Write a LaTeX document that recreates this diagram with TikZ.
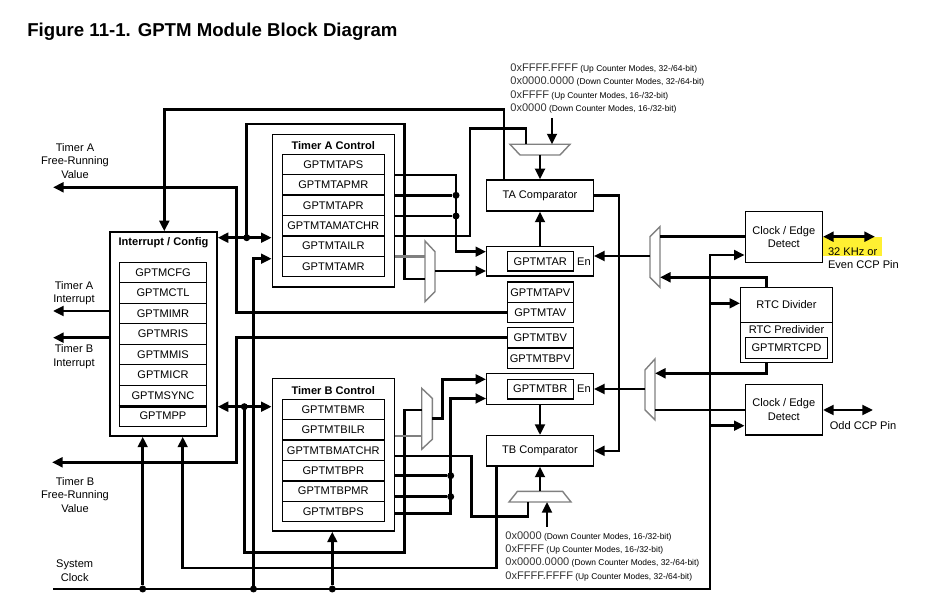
\documentclass[tikz,border=0pt]{standalone}
\usepackage{fontspec}
\setmainfont{Liberation Sans}
\usetikzlibrary{arrows.meta}
\definecolor{hilite}{RGB}{255,240,50}
\newcommand\blkfont{\fontsize{6.3}{7.6}\selectfont}
\newcommand\valfont{\fontsize{6.3}{7.6}\selectfont\color{black!80}}
\newcommand\modefont{\fontsize{4.8}{7.6}\selectfont}
\tikzset{
	box/.style={draw, line width=0.8pt, inner sep=0pt, font=\blkfont},
	reg/.style={box, minimum height=4.08mm},
	conn/.style={line width=1.5pt},
	arr/.style={conn, -{Triangle[length=6pt,width=5.5pt]}},
	darr/.style={conn, {Triangle[length=6pt,width=5.5pt]}-{Triangle[length=6pt,width=5.5pt]}},
	dot/.style={circle, fill=black, minimum size=1.4mm, inner sep=0pt},
	mux/.style={draw=gray, line width=0.8pt, fill=white},
	lbl/.style={font=\blkfont, align=center, inner sep=0pt},
}
\begin{document}
\begin{tikzpicture}[x=0.2mm, y=-0.2mm]
	\useasboundingbox (0,0) rectangle (942,609);
	\node[anchor=west, inner sep=0pt, font=\fontsize{10.6}{12}\selectfont\bfseries] (title) at (27,32) {Figure 11-1. GPTM Module Block Diagram};

	% interrupt / config
	\node[box, minimum width=21.4mm, minimum height=40.8mm] (ic) at (163.5,334) {};
	\node[lbl, font=\blkfont\bfseries] (icT) at (163.5,243) {Interrupt / Config};
	\foreach \nm [count=\i from 0] in {GPTMCFG,GPTMCTL,GPTMIMR,GPTMRIS,GPTMMIS,GPTMICR,GPTMSYNC,GPTMPP}
		\node[reg, minimum width=17.5mm, minimum height=4.1mm] (ir\i) at (163,272.55+20.5*\i) {\nm};
	\draw[conn] (ir6.south west) -- (ir6.south east);

	% timer A / timer B control
	\node[box, minimum width=24.4mm, minimum height=30.54mm] (taC) at (333.3,210.7) {};
	\node[lbl, font=\blkfont\bfseries] (taT) at (333.3,146) {Timer A Control};
	\foreach \nm [count=\i from 0] in {GPTMTAPS,GPTMTAPMR,GPTMTAPR,GPTMTAMATCHR,GPTMTAILR,GPTMTAMR}
		\node[reg, minimum width=20.4mm] (ta\i) at (333.3,164.5+20.4*\i) {\nm};
	\node[box, minimum width=24.4mm, minimum height=30.46mm] (tbC) at (333.3,454.85) {};
	\node[lbl, font=\blkfont\bfseries] (tbT) at (333.3,391) {Timer B Control};
	\foreach \nm [count=\i from 0] in {GPTMTBMR,GPTMTBILR,GPTMTBMATCHR,GPTMTBPR,GPTMTBPMR,GPTMTBPS}
		\node[reg, minimum width=20.4mm] (tb\i) at (333.3,409.5+20.4*\i) {\nm};

	% counters and comparators
	\node[box, minimum width=21.3mm, minimum height=6.2mm] (tacmp) at (540,195.5) {TA Comparator};
	\node[box, minimum width=21.3mm, minimum height=5.86mm] (tar) at (540,261.35) {};
	\node[reg, minimum width=13.2mm, minimum height=3.86mm] (tarR) at (540.3,261.35) {GPTMTAR};
	\node[lbl] (tarEn) at (584,261.35) {En};
	\node[reg, minimum width=13.2mm, minimum height=4.06mm] (tapv) at (540.3,292.2) {GPTMTAPV};
	\node[reg, minimum width=13.2mm, minimum height=4.06mm] (tav) at (540.3,312.5) {GPTMTAV};
	\node[reg, minimum width=13.2mm, minimum height=4.06mm] (tbv) at (540.3,337.8) {GPTMTBV};
	\node[reg, minimum width=13.2mm, minimum height=4.06mm] (tbpv) at (540.3,358.3) {GPTMTBPV};
	\node[box, minimum width=21.3mm, minimum height=6.2mm] (tbr) at (540,388.8) {};
	\node[reg, minimum width=13.2mm, minimum height=3.94mm] (tbrR) at (540.3,389.15) {GPTMTBR};
	\node[lbl] (tbrEn) at (584,389) {En};
	\node[box, minimum width=21.3mm, minimum height=6.06mm] (tbcmp) at (540,450.85) {TB Comparator};

	% clock side
	\node[box, minimum width=15.4mm, minimum height=10.1mm, align=center] (cea) at (783.8,237) {Clock / Edge\\Detect};
	\node[box, minimum width=18.3mm, minimum height=7mm] (rtc) at (786.5,304.8) {RTC Divider};
	\node[box, minimum width=18.3mm, minimum height=8mm] (rtcp) at (786.5,342.3) {};
	\node[lbl] (rtcpT) at (786.5,330) {RTC Predivider};
	\node[reg, minimum width=16.5mm, minimum height=4.2mm] (rtcpd) at (786.5,347.8) {GPTMRTCPD};
	\node[box, minimum width=15.4mm, minimum height=10.1mm, align=center] (ceb) at (783.8,409.65) {Clock / Edge\\Detect};

	% texts
	\node[lbl] (faT) at (75,161) {Timer A\\Free-Running\\Value};
	\node[lbl] (iaT) at (74,293) {Timer A\\Interrupt};
	\node[lbl] (ibT) at (74,356.7) {Timer B\\Interrupt};
	\node[lbl] (fbT) at (75,495) {Timer B\\Free-Running\\Value};
	\node[lbl] (clkT) at (74.7,570.7) {System\\Clock};
	\fill[hilite] (823,236.7) rectangle (881.7,255.7);
	\node[lbl, align=left, anchor=west] (pinAT) at (827.7,258) {32 KHz or\\Even CCP Pin};
	\node[lbl] (pinBT) at (863,426) {Odd CCP Pin};
	\node[anchor=north west, align=left, inner sep=0pt, font=\modefont] (valsA) at (510,63.5) {%
		{\valfont 0xFFFF.FFFF} (Up Counter Modes, 32-/64-bit)\\
		{\valfont 0x0000.0000} (Down Counter Modes, 32-/64-bit)\\
		{\valfont 0xFFFF} (Up Counter Modes, 16-/32-bit)\\
		{\valfont 0x0000} (Down Counter Modes, 16-/32-bit)};
	\node[anchor=north west, align=left, inner sep=0pt, font=\modefont] (valsB) at (505,531) {%
		{\valfont 0x0000} (Down Counter Modes, 16-/32-bit)\\
		{\valfont 0xFFFF} (Up Counter Modes, 16-/32-bit)\\
		{\valfont 0x0000.0000} (Down Counter Modes, 32-/64-bit)\\
		{\valfont 0xFFFF.FFFF} (Up Counter Modes, 32-/64-bit)};

	% muxes
	\draw[mux] (425,241) -- (435,251.7) -- (435,291.7) -- (425,301.7) -- cycle;
	\draw[mux] (421.7,388.3) -- (432.3,398.3) -- (432.3,439.3) -- (421.7,449.3) -- cycle;
	\draw[mux] (510,144.3) -- (570,144.3) -- (560,155) -- (520,155) -- cycle;
	\draw[mux] (517.5,491.3) -- (562.5,491.3) -- (571,502) -- (509,502) -- cycle;
	\draw[mux] (650,236.7) -- (660,226.7) -- (660,287.3) -- (650,277.3) -- cycle;
	\draw[mux] (645,370) -- (655,359) -- (655,420) -- (645,410) -- cycle;
	\coordinate (muxAin1) at (425,256.7);
	\coordinate (muxAin2) at (425,279);
	\coordinate (muxAout) at (435,271);
	\coordinate (muxBin1) at (421.7,410);
	\coordinate (muxBin2) at (421.7,436);
	\coordinate (muxBout) at (432.3,418.3);
	\coordinate (muxTAin1) at (526,144.3);
	\coordinate (muxTAin2) at (552,144.3);
	\coordinate (muxTAout) at (540,155);
	\coordinate (muxTBin1) at (528,502);
	\coordinate (muxTBin2) at (547,502);
	\coordinate (muxTBout) at (540,491.3);
	\coordinate (muxCin1) at (660,236.7);
	\coordinate (muxCin2) at (660,277.3);
	\coordinate (muxCout) at (650,256);
	\coordinate (muxDin1) at (655,373.3);
	\coordinate (muxDin2) at (655,410);
	\coordinate (muxDout) at (645,389);

	% free ends
	\coordinate (faEnd) at (53,187.3);
	\coordinate (iaEnd) at (53,311);
	\coordinate (ibEnd) at (53,337.7);
	\coordinate (fbEnd) at (52,462.3);
	\coordinate (clkL) at (53,589);
	\coordinate (clkRTC) at (710,303.3);
	\coordinate (clkCEB) at (710,425.7);
	\coordinate (pinA) at (875,236.7);
	\coordinate (pinB) at (873,410);
	\coordinate (valsAarr) at (552,118);
	\coordinate (valsBarr) at (547,527);

	% dots
	\node[dot] (dA) at (246.7,237.7) {};
	\node[dot] (dB) at (244.3,406.7) {};
	\node[dot] (dTA1) at (456,195.3) {};
	\node[dot] (dTA2) at (456,216) {};
	\node[dot] (dTB1) at (450.7,475.7) {};
	\node[dot] (dTB2) at (450.7,496.7) {};
	\node[dot] (dC1) at (142.7,589) {};
	\node[dot] (dC2) at (253.5,589) {};
	\node[dot] (dC3) at (332.3,589) {};

	% system clock
	\draw[arr] (clkL) -| (710,255) -- (cea.west |- 0,255);
	\draw[arr] (clkRTC) -- (rtc.west |- clkRTC);
	\draw[arr] (clkCEB) -- (ceb.west |- clkCEB);
	\draw[arr] (dC1) -- (ic.south -| dC1);
	\draw[arr] (dC2.center) |- (taC.west |- 0,258.7);
	\draw[arr] (dC3) -- (tbC.south -| dC3);

	% interrupt / config links
	\draw[darr] (ic.east |- dA) -- (taC.west |- dA);
	\draw[conn] (dA.center) |- (404.3,124) |- (muxAin2);
	\draw[darr] (ic.east |- dB) -- (tbC.west |- dB);
	\draw[conn] (dB.center) |- (404.3,552.7) |- (muxBin1);
	\draw[arr] (tacmp.north -| 504,0) |- (164.3,109.3) -- (164.3,0 |- ic.north);
	\draw[arr] (tbcmp.south -| 496.7,0) |- (182.7,568) -- (182.7,0 |- ic.south);
	\draw[arr] (ic.west |- iaEnd) -- (iaEnd);
	\draw[arr] (ic.west |- ibEnd) -- (ibEnd);
	\draw[arr] (tav.west) -| (236.7,187.3) -- (faEnd);
	\draw[arr] (tbv.west) -| (236.7,462.3) -- (fbEnd);

	% timer A
	\draw[arr] (taC.east |- 0,175) -| (456,251.7) -- (tar.west |- 0,251.7);
	\draw[conn] (taC.east |- dTA1) -- (dTA1);
	\draw[conn] (taC.east |- dTA2) -- (dTA2);
	\draw[conn] (taC.east |- 0,236) -| (470,128.3) -| (muxTAin1);
	\draw[conn, gray] (taC.east |- muxAin1) -- (muxAin1);
	\draw[arr] (muxAout) -- (tar.west |- muxAout);
	\draw[arr] (tar.north) -- (tacmp.south);
	\draw[arr] (muxTAout) -- (tacmp.north);
	\draw[arr] (valsAarr) -- (muxTAin2);
	\draw[arr] (tacmp.east) -- ++(25,0) |- (tbcmp.east);

	% timer B
	\draw[conn, gray] (tbC.east |- muxBin2) -- (muxBin2);
	\draw[arr] (muxBout) -- ++(10,0) |- (tbr.west |- 0,379.3);
	\draw[conn] (tbC.east |- 0,456) -| (471.7,516.7) -| (muxTBin1);
	\draw[conn] (tbC.east |- dTB1) -- (dTB1);
	\draw[conn] (tbC.east |- dTB2) -- (dTB2);
	\draw[arr] (tbC.east |- 0,513.3) -| (450.7,398.5) -- (tbr.west |- 0,398.5);
	\draw[arr] (tbr.south) -- (tbcmp.north);
	\draw[arr] (muxTBout) -- (tbcmp.south);
	\draw[arr] (valsBarr) -- (muxTBin2);

	% clock / edge and rtc
	\draw[conn] (cea.west |- muxCin1) -- (muxCin1);
	\draw[arr] (rtc.north -| 766.7,0) |- (muxCin2);
	\draw[arr] (rtcp.south -| 766.7,0) |- (muxDin1);
	\draw[conn] (ceb.west |- muxDin2) -- (muxDin2);
	\draw[arr] (muxCout) -- (tar.east |- muxCout);
	\draw[arr] (muxDout) -- (tbr.east |- muxDout);
	\draw[darr] (cea.east |- pinA) -- (pinA);
	\draw[darr] (ceb.east |- pinB) -- (pinB);
\end{tikzpicture}
\end{document}
